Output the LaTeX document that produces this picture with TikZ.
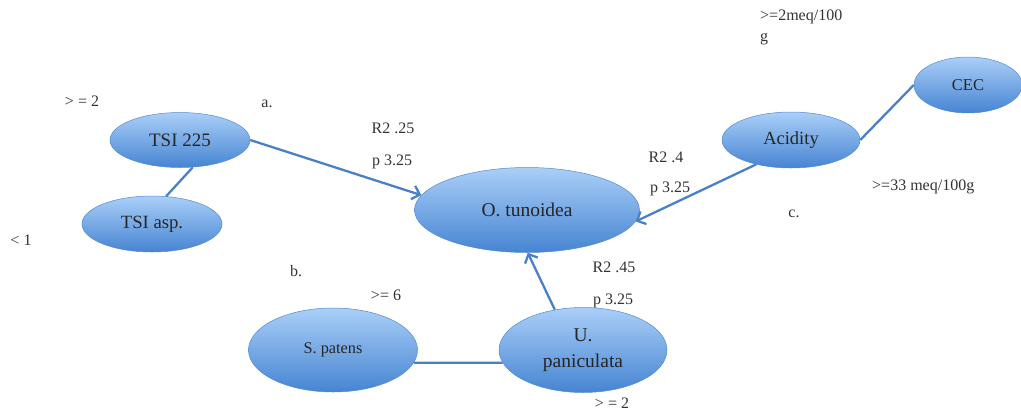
\documentclass[tikz,border=0pt]{standalone}
\usepackage{fontspec}
\setmainfont{Liberation Serif}
\usetikzlibrary{shapes.geometric,arrows.meta}
\definecolor{topblue}{RGB}{170,207,248}
\definecolor{botblue}{RGB}{70,132,210}
\definecolor{edgeblue}{RGB}{84,140,205}
\definecolor{linkblue}{RGB}{74,128,196}
\tikzset{
  bub/.style={ellipse, inner sep=0pt, top color=topblue, bottom color=botblue, draw=edgeblue, line width=0.5pt, text=black!85},
  link/.style={draw=linkblue, line width=2.3pt},
  arr/.style={link, -{Straight Barb[length=7pt,width=14pt,line width=2.3pt]}},
  lab/.style={inner sep=0pt, text=black!80, font=\fontsize{16}{18}\selectfont},
  nodefont/.style={font=\fontsize{19.5}{26}\selectfont}
}
\begin{document}
\begin{tikzpicture}[x=1pt,y=-1pt]
\path[use as bounding box] (0,0) rectangle (1021,413);
% nodes
\node[bub, font=\fontsize{19}{23}\selectfont, minimum width=140pt, minimum height=55pt] (tsi) at (180,140) {TSI 225};
\node[bub, font=\fontsize{18.7}{23}\selectfont, minimum width=140pt, minimum height=56pt] (asp) at (152,224) {TSI asp.};
\node[bub, nodefont, minimum width=225pt, minimum height=85pt] (ot) at (527,210) {O. tunoidea};
\node[bub, font=\fontsize{18.5}{23}\selectfont, minimum width=138pt, minimum height=56pt] (acid) at (791,140) {Acidity};
\node[bub, font=\fontsize{16.5}{20}\selectfont, minimum width=108pt, minimum height=56pt] (cec) at (968,85) {CEC};
\node[bub, font=\fontsize{16.3}{20}\selectfont, minimum width=169pt, minimum height=84pt] (sp) at (333,350) {S. patens};
\node[bub, nodefont, align=center, minimum width=168pt, minimum height=85pt] (up) at (583,350) {U.\\paniculata};
% connectors
\draw[arr] (tsi.east) -- (ot.172);
\draw[link] (tsi.-65) -- (asp.63);
\draw[arr] (acid.-145) -- (ot.-6);
\draw[link] (acid.east) -- (cec.west);
\draw[arr] (up.125) -- (ot.-89);
\draw[link] (sp.-9) -- (up.189);
% labels
\node[lab] (l1) at (82,101) {> = 2};
\node[lab] (l2) at (267,104) {a.};
\node[lab] (l3) at (393,128) {R2 .25};
\node[lab] (l4) at (392,162) {p 3.25};
\node[lab] (l5) at (21,240) {< 1};
\node[lab] (l6) at (296,271) {b.};
\node[lab] (l7) at (386,295) {>= 6};
\node[lab] (l8) at (614,267) {R2 .45};
\node[lab] (l9) at (613,301) {p 3.25};
\node[lab] (l10) at (612,403) {> = 2};
\node[lab] (l11) at (666,157) {R2 .4};
\node[lab] (l12) at (670,189) {p 3.25};
\node[lab, anchor=west] (l13) at (760,17) {>=2meq/100};
\node[lab, anchor=west] (l14) at (760,39) {g};
\node[lab, anchor=west] (l15) at (872,187) {>=33 meq/100g};
\node[lab] (l16) at (794,214) {c.};
\end{tikzpicture}
\end{document}
